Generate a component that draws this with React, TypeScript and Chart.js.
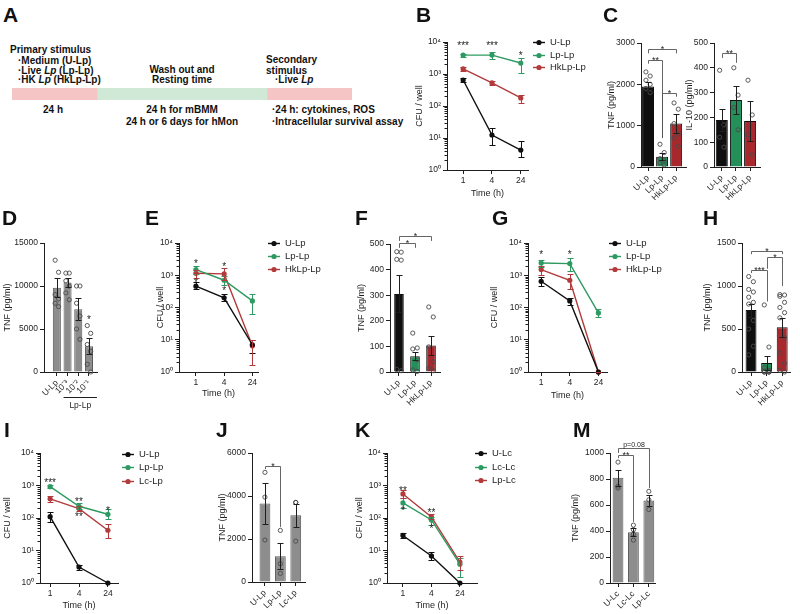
import React, { useEffect, useRef } from "react";
import { Chart, registerables } from "chart.js";

Chart.register(...registerables);

const FONT = "'Liberation Sans', Arial, Helvetica, sans-serif";
const INK = "#1e1e1e";
const BLACK = "#0f0f0f";
const GREEN = "#23905a";
const RED = "#a8292d";
const LGREEN = "#2e9a62";
const LRED = "#b23a3a";
const GREY = "#8d8d8d";
const GREY_EDGE = "#5a5a5a";
const DOT = "#4a4a4a";

// ---------- shared axis labels
const timeLabels = ["1", "4", "24"];
const logTicks = [1, 10, 100, 1000, 10000];
const logTickLabels = ["10⁰", "10¹", "10²", "10³", "10⁴"];

// ---------- A (timeline)
const phaseNames = ["Primary stimulus", "Wash out and resting", "Secondary stimulus"];
const phaseSpans = [1, 2, 1];
const phaseColors = ["#f5c4c4", "#d0e8d6", "#f5c4c4"];

// ---------- B
const bU = [650, 12.4, 4.2];
const bULo = [560, 6, 2.6];
const bUHi = [750, 20, 8];
const bLp = [3900, 3900, 2200];
const bLpLo = [3500, 2900, 1100];
const bLpHi = [4300, 5000, 3200];
const bHk = [1440, 525, 178];
const bHkLo = [1250, 450, 125];
const bHkHi = [1650, 610, 220];
const bStars = [
  { i: 0, v: 9000, t: "***" },
  { i: 1, v: 9000, t: "***" },
  { i: 2, v: 4500, t: "*" },
];

// ---------- C
const cCats = ["U-Lp", "Lp-Lp", "HkLp-Lp"];
const cTnfMean = [1950, 250, 1050];
const cTnfSem = [110, 90, 230];
const cTnfPts = [
  [2300, 2200, 2100, 2000, 1900, 1800],
  [550, 350, 200, 150, 100, 50],
  [1550, 1400, 1050, 800, 700, 500],
];
const cTnfTicks = [0, 1000, 2000, 3000];
const cTnfBrackets = [
  { a: 0, b: 2, v: 2850, va: 2750, vb: 2750, t: "*" },
  { a: 0, b: 1, v: 2600, va: 2500, vb: 700, t: "**" },
  { a: 1, b: 2, v: 1800, va: 700, vb: 1700, t: "*" },
];
const cIlMean = [190, 270, 185];
const cIlSem = [45, 55, 80];
const cIlPts = [
  [390, 170, 120, 80],
  [400, 290, 240, 150],
  [350, 210, 130, 50],
];
const cIlTicks = [0, 100, 200, 300, 400, 500];
const cIlBrackets = [{ a: 0, b: 1, v: 460, va: 440, vb: 420, t: "**" }];

// ---------- D
const dCats = ["U-Lp", "10⁻³", "10⁻²", "10⁻¹"];
const dMean = [9800, 10400, 7300, 3000];
const dSem = [1100, 500, 1300, 900];
const dPts = [
  [13000, 11600, 9000, 8500, 8000, 7600],
  [11500, 11500, 10600, 10000, 9200, 8400],
  [10000, 10000, 8000, 6500, 5000, 3800],
  [5400, 4500, 3200, 2400, 900, 0],
];
const dTicks = [0, 5000, 10000, 15000];
const dStars = [{ i: 3, v: 6300, t: "*" }];
const dGroup = { from: 1, to: 3, text: "Lp-Lp" };

// ---------- E
const eU = [460, 200, 7];
const eULo = [370, 160, 4];
const eUHi = [600, 260, 10];
const eLp = [1500, 700, 160];
const eLpLo = [1100, 500, 65];
const eLpHi = [2000, 950, 260];
const eHk = [1150, 1100, 6.5];
const eHkLo = [800, 700, 1.6];
const eHkHi = [1500, 1700, 10];
const eStars = [
  { i: 0, v: 2600, t: "*" },
  { i: 0, v: 700, t: "*" },
  { i: 1, v: 2100, t: "*" },
  { i: 1, v: 400, t: "*" },
];

// ---------- F
const fCats = ["U-Lp", "Lp-Lp", "HkLp-Lp"];
const fMean = [305, 62, 104];
const fSem = [72, 16, 38];
const fPts = [
  [470, 468, 440, 437, 10, 5],
  [152, 94, 90, 47, 8, 2],
  [254, 215, 98, 40, 15, 5],
];
const fTicks = [0, 100, 200, 300, 400, 500];
const fBrackets = [
  { a: 0, b: 2, v: 531, va: 512, vb: 512, t: "*" },
  { a: 0, b: 1, v: 504, va: 485, vb: 485, t: "*" },
];

// ---------- G
const gU = [650, 160, 1];
const gULo = [450, 120, 1];
const gUHi = [900, 200, 1];
const gLp = [2400, 2300, 68];
const gLpLo = [1800, 1400, 50];
const gLpHi = [3000, 3500, 90];
const gHk = [1500, 700, 1];
const gHkLo = [1000, 380, 1];
const gHkHi = [2000, 1100, 1];
const gStars = [
  { i: 0, v: 4900, t: "*" },
  { i: 1, v: 4900, t: "*" },
];

// ---------- H
const hCats = ["U-Lp", "Lp-Lp", "HkLp-Lp"];
const hMean = [720, 105, 520];
const hSem = [75, 85, 110];
const hPts = [
  [1110, 1050, 960, 930, 870, 810, 790, 600, 500, 300, 200],
  [780, 290, 50, 20, 10, 0, 0, 0, 0, 0],
  [900, 895, 880, 810, 750, 690, 630, 400, 220, 100, 20, 0],
];
const hTicks = [0, 500, 1000, 1500];
const hBrackets = [
  { a: 0, b: 2, v: 1407, va: 1370, vb: 1370, t: "*" },
  { a: 1, b: 2, v: 1337, va: 1200, vb: 1000, t: "*" },
  { a: 0, b: 1, v: 1186, va: 1150, vb: 820, t: "***" },
];

// ---------- I
const iU = [110, 3.1, 1];
const iULo = [75, 2.5, 1];
const iUHi = [150, 3.7, 1];
const iLp = [920, 230, 130];
const iLpLo = [820, 185, 90];
const iLpHi = [1020, 280, 190];
const iLc = [390, 195, 42];
const iLcLo = [320, 165, 25];
const iLcHi = [460, 230, 65];
const iStars = [
  { i: 0, v: 1380, t: "***" },
  { i: 1, v: 360, t: "**" },
  { i: 1, v: 124, t: "**" },
  { i: 2, v: 190, t: "*" },
];

// ---------- J
const jCats = ["U-Lp", "Lp-Lp", "Lc-Lp"];
const jMean = [3650, 1200, 3100];
const jSem = [950, 600, 550];
const jPts = [
  [5100, 3950, 1950],
  [2400, 850, 400],
  [3700, 3700, 1900],
];
const jTicks = [0, 2000, 4000, 6000];
const jBrackets = [{ a: 0, b: 1, v: 5395, va: 5250, vb: 2560, t: "*" }];

// ---------- K
const kU = [29, 6.8, 1];
const kULo = [24, 5, 1];
const kUHi = [35, 9, 1];
const kLc = [290, 87, 3.8];
const kLcLo = [200, 60, 1.5];
const kLcHi = [400, 110, 6];
const kLp = [550, 108, 4.4];
const kLpLo = [400, 90, 2.5];
const kLpHi = [750, 130, 7];
const kStars = [
  { i: 0, v: 830, t: "**" },
  { i: 0, v: 190, t: "*" },
  { i: 1, v: 165, t: "**" },
  { i: 1, v: 53, t: "*" },
];

// ---------- M
const mCats = ["U-Lc", "Lc-Lc", "Lp-Lc"];
const mMean = [810, 390, 635];
const mSem = [60, 30, 40];
const mPts = [
  [930, 745, 730],
  [445, 410, 375, 330],
  [705, 640, 565],
];
const mTicks = [0, 200, 400, 600, 800, 1000];
const mBrackets = [
  { a: 0, b: 2, v: 1038, va: 1000, vb: 730, t: "p=0.08" },
  { a: 0, b: 1, v: 985, va: 960, vb: 470, t: "**" },
];

// =====================================================================
type Box = { x: number; y: number; w: number; h: number };
type Area = { l: number; t: number; r: number; b: number };

const prismPlugin = {
  id: "prism",
  afterDatasetsDraw(chart: any, _a: any, o: any) {
    const ctx = chart.ctx;
    const ca = chart.chartArea;
    const xs = chart.scales.x;
    const ys = chart.scales.y;
    if (!xs || !ys) return;
    ctx.save();
    ctx.lineWidth = 1;
    if (o.minorLog) {
      ctx.strokeStyle = INK;
      ctx.beginPath();
      for (let d = 0; d < 4; d++) {
        for (let m = 2; m <= 9; m++) {
          const y = Math.round(ys.getPixelForValue(m * Math.pow(10, d))) + 0.5;
          ctx.moveTo(ca.left - 2.5, y);
          ctx.lineTo(ca.left, y);
        }
      }
      ctx.stroke();
    }
    chart.data.datasets.forEach((ds: any) => {
      if (!ds.errLo) return;
      ctx.strokeStyle = ds.errColor || ds.borderColor;
      ctx.lineWidth = 1;
      const cw = ds.capW ?? 3;
      ds.data.forEach((p: any, i: number) => {
        const x = Math.round(xs.getPixelForValue(p.x)) + 0.5;
        const y1 = Math.round(ys.getPixelForValue(ds.errLo[i])) + 0.5;
        const y2 = Math.round(ys.getPixelForValue(ds.errHi[i])) + 0.5;
        ctx.beginPath();
        ctx.moveTo(x, y1);
        ctx.lineTo(x, y2);
        ctx.moveTo(x - cw, y1);
        ctx.lineTo(x + cw, y1);
        ctx.moveTo(x - cw, y2);
        ctx.lineTo(x + cw, y2);
        ctx.stroke();
      });
    });
    ctx.fillStyle = INK;
    ctx.textAlign = "center";
    ctx.textBaseline = "alphabetic";
    (o.stars || []).forEach((s: any) => {
      const x = xs.getPixelForValue(s.i);
      const y = ys.getPixelForValue(s.v);
      ctx.font = `10px ${FONT}`;
      ctx.fillText(s.t, x, y + 5.5);
    });
    (o.brackets || []).forEach((b: any) => {
      const xa = Math.round(xs.getPixelForValue(b.a)) + 0.5;
      const xb = Math.round(xs.getPixelForValue(b.b)) + 0.5;
      const y = Math.round(ys.getPixelForValue(b.v)) + 0.5;
      ctx.strokeStyle = "#555";
      ctx.lineWidth = 0.9;
      ctx.beginPath();
      ctx.moveTo(xa, ys.getPixelForValue(b.va));
      ctx.lineTo(xa, y);
      ctx.lineTo(xb, y);
      ctx.lineTo(xb, ys.getPixelForValue(b.vb));
      ctx.stroke();
      if (b.t.startsWith("*")) {
        ctx.font = `9px ${FONT}`;
        ctx.fillText(b.t, (xa + xb) / 2, y + 2);
      } else {
        ctx.font = `7px ${FONT}`;
        ctx.fillText(b.t, (xa + xb) / 2, y - 2);
      }
    });
    if (o.group) {
      const g = o.group;
      const x1 = xs.getPixelForValue(g.from) - 4;
      const x2 = xs.getPixelForValue(g.to) + 8;
      const y = Math.round(ca.bottom + 25) + 0.5;
      ctx.strokeStyle = INK;
      ctx.lineWidth = 1;
      ctx.beginPath();
      ctx.moveTo(x1, y);
      ctx.lineTo(x2, y);
      ctx.stroke();
      ctx.font = `8.5px ${FONT}`;
      ctx.textBaseline = "middle";
      ctx.fillText(g.text, (x1 + x2) / 2, y + 8);
      ctx.textBaseline = "alphabetic";
    }
    if (o.legend) {
      const L = o.legend;
      chart.data.datasets.forEach((ds: any, k: number) => {
        const y = Math.round(L.y + k * L.dy) + 0.5;
        ctx.strokeStyle = ds.borderColor;
        ctx.fillStyle = ds.borderColor;
        ctx.lineWidth = 1.4;
        ctx.beginPath();
        ctx.moveTo(L.x, y);
        ctx.lineTo(L.x + 12, y);
        ctx.stroke();
        ctx.beginPath();
        ctx.arc(L.x + 6, y, 2.6, 0, Math.PI * 2);
        ctx.fill();
        ctx.fillStyle = INK;
        ctx.font = `9.5px ${FONT}`;
        ctx.textAlign = "left";
        ctx.textBaseline = "middle";
        ctx.fillText(ds.label, L.x + 17, y);
      });
    }
    ctx.restore();
  },
};

const gridOpt = {
  display: true,
  drawOnChartArea: false,
  drawTicks: true,
  tickLength: 4,
  color: INK,
  lineWidth: 1,
  offset: false,
};
const borderOpt = { display: true, color: INK, width: 1 };
const tickFont = { family: FONT, size: 8.5 };
const titleFont = { family: FONT, size: 9 };

function baseOpts(box: Box, area: Area) {
  return {
    responsive: false,
    animation: false,
    events: [],
    layout: {
      padding: { left: 0, top: area.t - box.y, right: box.x + box.w - area.r, bottom: 0 },
    },
  };
}

function catAxis(box: Box, area: Area, min: number, max: number, labels: string[], rotate: boolean, title?: string) {
  return {
    type: "linear",
    min,
    max,
    bounds: "data",
    offset: false,
    grid: gridOpt,
    border: borderOpt,
    afterBuildTicks: (s: any) => {
      s.ticks = labels.map((_, i) => ({ value: i }));
    },
    afterFit: (s: any) => {
      s.height = box.y + box.h - area.b;
    },
    ticks: {
      autoSkip: false,
      minRotation: rotate ? 45 : 0,
      maxRotation: rotate ? 45 : 0,
      padding: 2,
      color: INK,
      font: tickFont,
      callback: (_v: any, i: number) => labels[i],
    },
    title: title
      ? { display: true, text: title, color: INK, font: titleFont, padding: 0 }
      : { display: false },
  };
}

function logAxis(box: Box, area: Area, title: string) {
  return {
    type: "logarithmic",
    min: 1,
    max: 10000,
    bounds: "data",
    grid: gridOpt,
    border: borderOpt,
    afterBuildTicks: (s: any) => {
      s.ticks = logTicks.map((v) => ({ value: v }));
    },
    afterFit: (s: any) => {
      s.width = area.l - box.x;
    },
    ticks: { autoSkip: false, padding: 2, color: INK, font: tickFont, callback: (_v: any, i: number) => logTickLabels[i] },
    title: { display: true, text: title, color: INK, font: titleFont, padding: 0 },
  };
}

function valAxis(box: Box, area: Area, ticks: number[], title: string) {
  return {
    type: "linear",
    min: ticks[0],
    max: ticks[ticks.length - 1],
    bounds: "data",
    grid: gridOpt,
    border: borderOpt,
    afterBuildTicks: (s: any) => {
      s.ticks = ticks.map((v) => ({ value: v }));
    },
    afterFit: (s: any) => {
      s.width = area.l - box.x;
    },
    ticks: { autoSkip: false, padding: 2, color: INK, font: tickFont, callback: (_v: any, i: number) => String(ticks[i]) },
    title: { display: true, text: title, color: INK, font: titleFont, padding: 0 },
  };
}

type Series = { label: string; color: string; mean: number[]; lo: number[]; hi: number[] };

function makeLine(
  box: Box,
  area: Area,
  xMin: number,
  xMax: number,
  series: Series[],
  stars: any[],
  leg: { x: number; y: number; dy: number }
) {
  return () => ({
    type: "line",
    data: {
      datasets: series.map((s) => ({
        label: s.label,
        data: s.mean.map((v, i) => ({ x: i, y: v })),
        borderColor: s.color,
        backgroundColor: s.color,
        borderWidth: 1.4,
        pointRadius: 2.6,
        pointBorderWidth: 0,
        pointHoverRadius: 2.6,
        tension: 0,
        clip: false,
        errLo: s.lo,
        errHi: s.hi,
      })),
    },
    options: {
      ...baseOpts(box, area),
      scales: {
        x: catAxis(box, area, xMin, xMax, timeLabels, false, "Time (h)"),
        y: logAxis(box, area, "CFU / well"),
      },
      plugins: {
        legend: { display: false },
        tooltip: { enabled: false },
        prism: { minorLog: true, stars, legend: { x: leg.x - box.x, y: leg.y - box.y, dy: leg.dy } },
      },
    },
    plugins: [prismPlugin],
  });
}

type BarDef = {
  box: Box;
  area: Area;
  xMin: number;
  xMax: number;
  cats: string[];
  mean: number[];
  sem: number[];
  pts: number[][];
  colors: string[];
  edge: string;
  ticks: number[];
  title: string;
  frac: number;
  spread: number;
  brackets?: any[];
  stars?: any[];
  group?: any;
};

function makeBar(p: BarDef) {
  return () => ({
    type: "bar",
    data: {
      datasets: [
        {
          type: "scatter",
          data: p.pts.flatMap((arr, i) =>
            arr.map((v, k) => ({ x: i + (k % 2 === 0 ? -p.spread : p.spread) * (k === 0 && arr.length < 4 ? 0 : 1), y: v }))
          ),
          pointRadius: 2.1,
          pointBorderWidth: 0.9,
          borderColor: DOT,
          backgroundColor: "rgba(255,255,255,0)",
          clip: false,
          order: 0,
        },
        {
          type: "bar",
          data: p.mean.map((v, i) => ({ x: i, y: v })),
          backgroundColor: p.colors,
          borderColor: p.edge,
          borderWidth: 1,
          barPercentage: p.frac,
          categoryPercentage: 1,
          errLo: p.mean.map((v, i) => Math.max(0, v - p.sem[i])),
          errHi: p.mean.map((v, i) => v + p.sem[i]),
          errColor: INK,
          order: 1,
        },
      ],
    },
    options: {
      ...baseOpts(p.box, p.area),
      scales: {
        x: catAxis(p.box, p.area, p.xMin, p.xMax, p.cats, true),
        y: valAxis(p.box, p.area, p.ticks, p.title),
      },
      plugins: {
        legend: { display: false },
        tooltip: { enabled: false },
        prism: { brackets: p.brackets, stars: p.stars, group: p.group },
      },
    },
    plugins: [prismPlugin],
  });
}

function makeTimeline() {
  return () => ({
    type: "bar",
    data: {
      labels: ["protocol"],
      datasets: phaseNames.map((n, i) => ({
        label: n,
        data: [phaseSpans[i]],
        backgroundColor: phaseColors[i],
        borderWidth: 0,
        barPercentage: 1,
        categoryPercentage: 1,
      })),
    },
    options: {
      responsive: false,
      animation: false,
      events: [],
      indexAxis: "y",
      layout: { padding: 0 },
      scales: {
        x: { stacked: true, display: false, min: 0, max: phaseSpans.reduce((a, b) => a + b, 0) },
        y: { stacked: true, display: false },
      },
      plugins: { legend: { display: false }, tooltip: { enabled: false } },
    },
  });
}

function ChartBox({ box, make }: { box: Box; make: () => any }) {
  const ref = useRef<HTMLCanvasElement | null>(null);
  useEffect(() => {
    const chart = new Chart(ref.current as HTMLCanvasElement, make() as any);
    return () => chart.destroy();
  }, []);
  return (
    <canvas
      ref={ref}
      width={box.w}
      height={box.h}
      style={{ position: "absolute", left: box.x, top: box.y, width: box.w, height: box.h }}
    />
  );
}

function Txt({
  x,
  y,
  s = 10,
  bold = true,
  align = "left",
  children,
}: {
  x: number;
  y: number;
  s?: number;
  bold?: boolean;
  align?: "left" | "center";
  children: React.ReactNode;
}) {
  const style: React.CSSProperties = {
    position: "absolute",
    left: x,
    top: y - 0.6 * s,
    fontSize: s,
    lineHeight: `${1.2 * s}px`,
    fontFamily: FONT,
    fontWeight: bold ? 700 : 400,
    whiteSpace: "nowrap",
    color: "#111",
  };
  if (align === "center") style.transform = "translateX(-50%)";
  return <div style={style}>{children}</div>;
}

// ---------- panel geometry
const boxA: Box = { x: 12, y: 88, w: 340, h: 12 };

const boxB: Box = { x: 414, y: 0, w: 186, h: 199 };
const areaB: Area = { l: 447, t: 42, r: 528, b: 170 };

const boxC1: Box = { x: 606, y: 0, w: 94, h: 200 };
const areaC1: Area = { l: 641, t: 43, r: 686, b: 167 };
const boxC2: Box = { x: 684, y: 0, w: 110, h: 200 };
const areaC2: Area = { l: 714, t: 43, r: 760, b: 167 };

const boxD: Box = { x: 2, y: 200, w: 112, h: 212 };
const areaD: Area = { l: 44, t: 243, r: 97, b: 372 };

const boxE: Box = { x: 155, y: 200, w: 175, h: 199 };
const areaE: Area = { l: 179, t: 243, r: 258, b: 372 };

const boxF: Box = { x: 356, y: 200, w: 100, h: 212 };
const areaF: Area = { l: 390, t: 244, r: 440, b: 372 };

const boxG: Box = { x: 489, y: 200, w: 181, h: 201 };
const areaG: Area = { l: 528, t: 243, r: 607, b: 372 };

const boxH: Box = { x: 702, y: 200, w: 98, h: 212 };
const areaH: Area = { l: 742, t: 243, r: 790, b: 372 };

const boxI: Box = { x: 2, y: 400, w: 196, h: 211 };
const areaI: Area = { l: 40, t: 453, r: 118, b: 583 };

const boxJ: Box = { x: 217, y: 400, w: 100, h: 214 };
const areaJ: Area = { l: 252, t: 453, r: 305, b: 582 };

const boxK: Box = { x: 354, y: 400, w: 206, h: 211 };
const areaK: Area = { l: 387, t: 453, r: 477, b: 583 };

const boxM: Box = { x: 570, y: 400, w: 100, h: 214 };
const areaM: Area = { l: 610, t: 453, r: 655, b: 583 };

export default function App() {
  const panels: { box: Box; make: () => any }[] = [
    { box: boxA, make: makeTimeline() },
    {
      box: boxB,
      make: makeLine(
        boxB,
        areaB,
        -0.56,
        2.25,
        [
          { label: "U-Lp", color: BLACK, mean: bU, lo: bULo, hi: bUHi },
          { label: "Lp-Lp", color: LGREEN, mean: bLp, lo: bLpLo, hi: bLpHi },
          { label: "HkLp-Lp", color: LRED, mean: bHk, lo: bHkLo, hi: bHkHi },
        ],
        bStars,
        { x: 533, y: 42, dy: 12.5 }
      ),
    },
    {
      box: boxC1,
      make: makeBar({
        box: boxC1, area: areaC1, xMin: -0.5, xMax: 2.7, cats: cCats, mean: cTnfMean, sem: cTnfSem, pts: cTnfPts,
        colors: [BLACK, GREEN, RED], edge: BLACK, ticks: cTnfTicks, title: "TNF (pg/ml)", frac: 0.85, spread: 0.15,
        brackets: cTnfBrackets,
      }),
    },
    {
      box: boxC2,
      make: makeBar({
        box: boxC2, area: areaC2, xMin: -0.55, xMax: 2.7, cats: cCats, mean: cIlMean, sem: cIlSem, pts: cIlPts,
        colors: [BLACK, GREEN, RED], edge: BLACK, ticks: cIlTicks, title: "IL-10 (pg/ml)", frac: 0.85, spread: 0.15,
        brackets: cIlBrackets,
      }),
    },
    {
      box: boxD,
      make: makeBar({
        box: boxD, area: areaD, xMin: -1.2, xMax: 3.75, cats: dCats, mean: dMean, sem: dSem, pts: dPts,
        colors: [GREY, GREY, GREY, GREY], edge: GREY_EDGE, ticks: dTicks, title: "TNF (pg/ml)", frac: 0.75, spread: 0.16,
        stars: dStars, group: dGroup,
      }),
    },
    {
      box: boxE,
      make: makeLine(
        boxE,
        areaE,
        -0.6,
        2.2,
        [
          { label: "U-Lp", color: BLACK, mean: eU, lo: eULo, hi: eUHi },
          { label: "Lp-Lp", color: LGREEN, mean: eLp, lo: eLpLo, hi: eLpHi },
          { label: "HkLp-Lp", color: LRED, mean: eHk, lo: eHkLo, hi: eHkHi },
        ],
        eStars,
        { x: 268, y: 243, dy: 13 }
      ),
    },
    {
      box: boxF,
      make: makeBar({
        box: boxF, area: areaF, xMin: -0.56, xMax: 2.56, cats: fCats, mean: fMean, sem: fSem, pts: fPts,
        colors: [BLACK, GREEN, RED], edge: BLACK, ticks: fTicks, title: "TNF (pg/ml)", frac: 0.6, spread: 0.14,
        brackets: fBrackets,
      }),
    },
    {
      box: boxG,
      make: makeLine(
        boxG,
        areaG,
        -0.46,
        2.3,
        [
          { label: "U-Lp", color: BLACK, mean: gU, lo: gULo, hi: gUHi },
          { label: "Lp-Lp", color: LGREEN, mean: gLp, lo: gLpLo, hi: gLpHi },
          { label: "HkLp-Lp", color: LRED, mean: gHk, lo: gHkLo, hi: gHkHi },
        ],
        gStars,
        { x: 609, y: 243, dy: 13 }
      ),
    },
    {
      box: boxH,
      make: makeBar({
        box: boxH, area: areaH, xMin: -0.58, xMax: 2.5, cats: hCats, mean: hMean, sem: hSem, pts: hPts,
        colors: [BLACK, GREEN, RED], edge: BLACK, ticks: hTicks, title: "TNF (pg/ml)", frac: 0.7, spread: 0.15,
        brackets: hBrackets,
      }),
    },
    {
      box: boxI,
      make: makeLine(
        boxI,
        areaI,
        -0.35,
        2.35,
        [
          { label: "U-Lp", color: BLACK, mean: iU, lo: iULo, hi: iUHi },
          { label: "Lp-Lp", color: LGREEN, mean: iLp, lo: iLpLo, hi: iLpHi },
          { label: "Lc-Lp", color: LRED, mean: iLc, lo: iLcLo, hi: iLcHi },
        ],
        iStars,
        { x: 122, y: 454, dy: 13.3 }
      ),
    },
    {
      box: boxJ,
      make: makeBar({
        box: boxJ, area: areaJ, xMin: -0.84, xMax: 2.6, cats: jCats, mean: jMean, sem: jSem, pts: jPts,
        colors: [GREY, GREY, GREY], edge: GREY_EDGE, ticks: jTicks, title: "TNF (pg/ml)", frac: 0.7, spread: 0,
        brackets: jBrackets,
      }),
    },
    {
      box: boxK,
      make: makeLine(
        boxK,
        areaK,
        -0.56,
        2.6,
        [
          { label: "U-Lc", color: BLACK, mean: kU, lo: kULo, hi: kUHi },
          { label: "Lc-Lc", color: LGREEN, mean: kLc, lo: kLcLo, hi: kLcHi },
          { label: "Lp-Lc", color: LRED, mean: kLp, lo: kLpLo, hi: kLpHi },
        ],
        kStars,
        { x: 475, y: 453, dy: 13.5 }
      ),
    },
    {
      box: boxM,
      make: makeBar({
        box: boxM, area: areaM, xMin: -0.52, xMax: 2.4, cats: mCats, mean: mMean, sem: mSem, pts: mPts,
        colors: [GREY, GREY, GREY], edge: GREY_EDGE, ticks: mTicks, title: "TNF (pg/ml)", frac: 0.7, spread: 0,
        brackets: mBrackets,
      }),
    },
  ];

  return (
    <div
      style={{
        position: "absolute",
        left: 0,
        top: 0,
        width: 800,
        height: 614,
        background: "#fff",
        overflow: "hidden",
      }}
    >
      {panels.map((p, i) => (
        <ChartBox key={i} box={p.box} make={p.make} />
      ))}

      {/* panel letters */}
      <Txt x={3} y={14.5} s={21}>A</Txt>
      <Txt x={416} y={14.5} s={21}>B</Txt>
      <Txt x={603} y={14.5} s={21}>C</Txt>
      <Txt x={2} y={217.5} s={21}>D</Txt>
      <Txt x={145} y={217.5} s={21}>E</Txt>
      <Txt x={355} y={217.5} s={21}>F</Txt>
      <Txt x={492} y={217.5} s={21}>G</Txt>
      <Txt x={703} y={217.5} s={21}>H</Txt>
      <Txt x={4} y={430} s={21}>I</Txt>
      <Txt x={216} y={430} s={21}>J</Txt>
      <Txt x={355} y={430} s={21}>K</Txt>
      <Txt x={573} y={430} s={21}>M</Txt>

      {/* panel A text */}
      <Txt x={10} y={50}>Primary stimulus</Txt>
      <Txt x={18} y={61}>·Medium (U-Lp)</Txt>
      <Txt x={18} y={71}>
        ·Live <i>Lp</i> (Lp-Lp)
      </Txt>
      <Txt x={18} y={80}>
        ·HK <i>Lp</i> (HkLp-Lp)
      </Txt>
      <Txt x={182} y={70} align="center">Wash out and</Txt>
      <Txt x={182} y={80} align="center">Resting time</Txt>
      <Txt x={266} y={60}>Secondary</Txt>
      <Txt x={266} y={71}>stimulus</Txt>
      <Txt x={275} y={80}>
        ·Live <i>Lp</i>
      </Txt>
      <Txt x={53} y={110} align="center">24 h</Txt>
      <Txt x={182} y={110} align="center">24 h for mBMM</Txt>
      <Txt x={182} y={122} align="center">24 h or 6 days for hMon</Txt>
      <Txt x={272} y={110}>·24 h: cytokines, ROS</Txt>
      <Txt x={272} y={122}>·Intracellular survival assay</Txt>
    </div>
  );
}
